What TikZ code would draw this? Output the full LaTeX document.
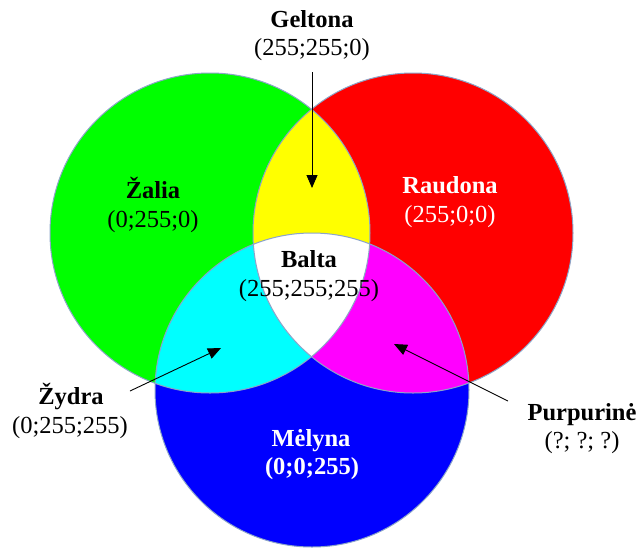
\documentclass[tikz,border=0pt]{standalone}
\usepackage{fontspec}
\setmainfont{Liberation Serif}
\usetikzlibrary{arrows.meta}
\definecolor{cG}{RGB}{0,255,0}
\definecolor{cR}{RGB}{255,0,0}
\definecolor{cB}{RGB}{0,0,255}
\definecolor{cY}{RGB}{255,255,0}
\definecolor{cC}{RGB}{0,255,255}
\definecolor{cM}{RGB}{255,0,255}
\definecolor{rim}{RGB}{140,165,200}
\begin{document}
\begin{tikzpicture}[x=1pt,y=-1pt,
  lbl/.style={anchor=base,inner sep=0pt,font=\fontsize{24.5}{28}\selectfont},
  nm/.style={lbl,font=\fontsize{24.5}{28}\selectfont\bfseries},
  ptr/.style={draw=black,line width=0.9pt,-{Triangle[length=13pt,width=11pt]}},
  rimline/.style={draw=rim,line width=1pt}]
\useasboundingbox (0,0) rectangle (638,550);
% base fills
\fill[cG] (210,233) circle[radius=160pt];
\fill[cR] (413,233) circle[radius=160pt];
\fill[cB] (312,390) circle[radius=157pt];
% overlaps
\begin{scope}
  \clip (210,233) circle[radius=160pt];
  \fill[cY] (413,233) circle[radius=160pt];
  \fill[cC] (312,390) circle[radius=157pt];
\end{scope}
\begin{scope}
  \clip (413,233) circle[radius=160pt];
  \fill[cM] (312,390) circle[radius=157pt];
  \clip (210,233) circle[radius=160pt];
  \fill[white] (312,390) circle[radius=157pt];
\end{scope}
% outlines
\draw[rimline] (210,233) circle[radius=160pt];
\draw[rimline] (413,233) circle[radius=160pt];
\draw[rimline] (312,390) circle[radius=157pt];
% labels
\node[nm] (geltN) at (312,27) {Geltona};
\node[lbl] (geltV) at (312,55) {(255;255;0)};
\node[nm] (zalN) at (153,198) {Žalia};
\node[lbl] (zalV) at (153,227) {(0;255;0)};
\node[nm,text=white] (rauN) at (450,193.5) {Raudona};
\node[lbl,text=white] (rauV) at (450,222.5) {(255;0;0)};
\node[nm] (balN) at (309,267.5) {Balta};
\node[lbl] (balV) at (309,296) {(255;255;255)};
\node[nm] (zydN) at (71,404) {Žydra};
\node[lbl] (zydV) at (70,433) {(0;255;255)};
\node[nm,text=white] (melN) at (311,446) {Mėlyna};
\node[nm,text=white] (melV) at (312,474) {(0;0;255)};
\node[nm] (purN) at (582,420) {Purpurinė};
\node[lbl] (purV) at (582,448) {(?; ?; ?)};
% arrows
\coordinate (gA) at (312,72);
\coordinate (gB) at (312,188);
\coordinate (zA) at (130,391);
\coordinate (zB) at (221,348);
\coordinate (pA) at (508,401);
\coordinate (pB) at (394,344);
\draw[ptr] (gA) -- (gB);
\draw[ptr] (zA) -- (zB);
\draw[ptr] (pA) -- (pB);
\end{tikzpicture}
\end{document}
